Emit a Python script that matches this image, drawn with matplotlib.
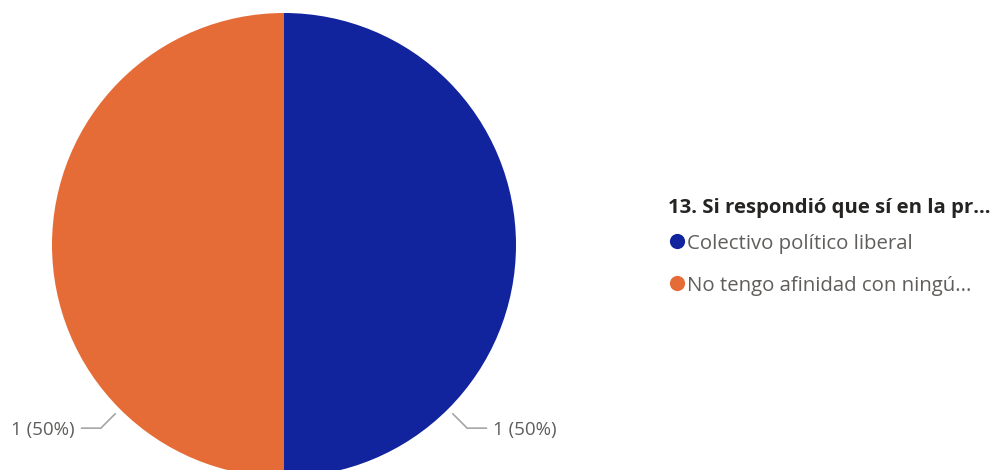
import numpy as np
import matplotlib.pyplot as plt

plt.rcParams['font.family'] = ['Open Sans', 'DejaVu Sans']

# data
categories = ["Colectivo político liberal", "No tengo afinidad con ningú..."]
values = [1, 1]
colors = ["#12239E", "#E66C37"]
legend_title = "13. Si respondió que sí en la pr..."

W, H = 998, 470
fig = plt.figure(figsize=(W / 100, H / 100), dpi=100)
ax = fig.add_axes([0, 0, 1, 1])

cx, cy, r = 284, H - 245, 232
wedges, _ = ax.pie(values, colors=colors, startangle=90, counterclock=False,
                   center=(cx, cy), radius=r, frame=True,
                   wedgeprops=dict(linewidth=0))

total = sum(values)
for w, v in zip(wedges, values):
    mid = np.deg2rad((w.theta1 + w.theta2) / 2)
    # leader lines sit below the slices, near the bottom of the chart
    ang = np.deg2rad(-45) if np.cos(mid) > 0 else np.deg2rad(-135)
    x0, y0 = cx + 238 * np.cos(ang), cy + 238 * np.sin(ang)
    x1, y1 = cx + 259 * np.cos(ang), cy + 259 * np.sin(ang)
    side = 1 if np.cos(ang) > 0 else -1
    x2 = x1 + side * 20
    ax.plot([x0, x1, x2], [y0, y1, y1], color="#A6A6A6", lw=1.2,
            solid_capstyle="butt")
    ax.text(x2 + side * 6, y1, f"{v} ({v / total:.0%})", fontsize=13.5,
            color="#605E5C", ha="left" if side > 0 else "right",
            va="center_baseline")

# legend drawn by hand
lx, ly = 668, H - 206
ax.text(lx, ly, legend_title, fontsize=14.7, fontweight="bold", color="#252423",
        ha="left", va="center_baseline")
for i, (c, col) in enumerate(zip(categories, colors)):
    yy = H - (241 + 42 * i)
    ax.scatter([lx + 9], [yy], s=120, color=col, linewidths=0)
    ax.text(lx + 19, yy, c, fontsize=14.7, color="#605E5C", ha="left",
            va="center_baseline")

ax.set_xlim(0, W)
ax.set_ylim(0, H)
ax.set_aspect("auto")
ax.axis("off")

fig.savefig("out.png", dpi=100)
